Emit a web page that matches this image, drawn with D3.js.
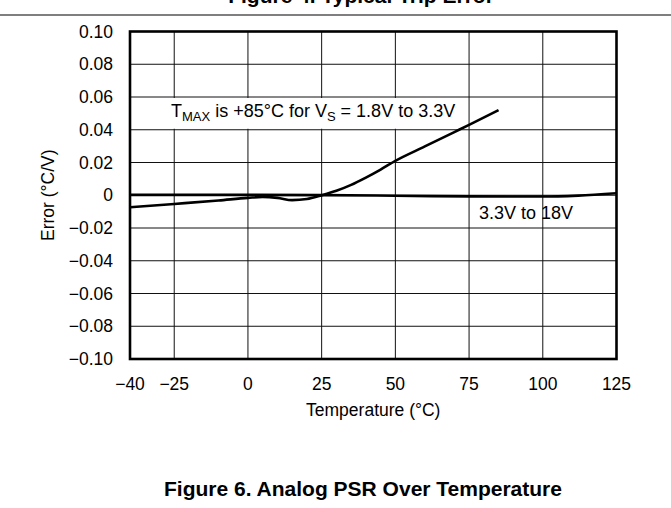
<!DOCTYPE html>
<html>
<head>
  <meta charset="utf-8">
  <title>Analog PSR Over Temperature</title>
  <script src="https://cdn.jsdelivr.net/npm/d3@7"></script>
  <style>
    body { margin: 0; background: #fff; }
    svg text { font-family: "Liberation Sans", Arial, sans-serif; fill: #000; }
  </style>
</head>
<body>
<div id="container"></div>

<script>
    // x ticks and y ticks
    var xTicks = [-40, -25, 0, 25, 50, 75, 100, 125];
    var yTicks = [-0.10, -0.08, -0.06, -0.04, -0.02, 0, 0.02, 0.04, 0.06, 0.08, 0.10];
    var yTickLabels = ["\u22120.10", "\u22120.08", "\u22120.06", "\u22120.04", "\u22120.02", "0",
                       "0.02", "0.04", "0.06", "0.08", "0.10"];
    var xTickLabels = ["\u221240", "\u221225", "0", "25", "50", "75", "100", "125"];

    // 3.3V to 18V
    var tempHigh = [-40, -25, 0, 25, 50, 75, 100, 112, 125];
    var errHigh  = [0.0002, 0.0002, 0.0002, 0.0001, -0.0003, -0.0007, -0.0008, -0.0002, 0.0012];

    // 1.8V to 3.3V (stops at TMAX = 85)
    var tempLow = [-40, -25, -10, 0, 5, 10, 15, 20, 25, 30, 35, 40, 45, 50, 60, 70, 75, 85];
    var errLow  = [-0.0073, -0.0053, -0.0032, -0.0016, -0.0010, -0.0016, -0.0030, -0.0023, 0.0000,
                   0.0027, 0.0063, 0.0108, 0.0157, 0.0210, 0.0298, 0.0386, 0.0430, 0.0520];

    var W = 671, H = 508;
    var pLeft = 130, pRight = 616.5, pTop = 31.5, pBottom = 359;

    var svg = d3.select("#container").append("svg").attr("width", W).attr("height", H);

    // top title (cut off) and rule
    svg.append("text").attr("x", 361).attr("y", 3).attr("text-anchor", "middle")
       .style("font-size", "21px").style("font-weight", "bold").text("Figure 4. Typical Trip Error");
    svg.append("line").attr("x1", 0).attr("x2", W).attr("y1", 15).attr("y2", 15)
       .attr("stroke", "#000").attr("stroke-width", 1.2);

    var x = d3.scaleLinear().domain([-40, 125]).range([pLeft, pRight]);
    var y = d3.scaleLinear().domain([-0.10, 0.10]).range([pBottom, pTop]);

    var grid = svg.append("g");
    grid.selectAll(".vg").data(xTicks).enter().append("line")
        .attr("x1", function(d){ return x(d); }).attr("x2", function(d){ return x(d); })
        .attr("y1", pTop).attr("y2", pBottom)
        .attr("stroke", "#111").attr("stroke-width", 1);
    grid.selectAll(".hg").data(yTicks).enter().append("line")
        .attr("x1", pLeft).attr("x2", pRight)
        .attr("y1", function(d){ return y(d); }).attr("y2", function(d){ return y(d); })
        .attr("stroke", "#111").attr("stroke-width", 1);

    // white box behind the annotation
    svg.append("rect").attr("x", 165).attr("y", y(0.06) + 1).attr("width", 298)
       .attr("height", y(0.04) - y(0.06) - 2).attr("fill", "#fff");

    var fs = "17.5px";
    var ann = svg.append("text").attr("x", 171).attr("y", 117).style("font-size", "18px");
    ann.append("tspan").text("T");
    ann.append("tspan").attr("dy", 4).style("font-size", "13px").text("MAX");
    ann.append("tspan").attr("dy", -4).text(" is +85\u00b0C for V");
    ann.append("tspan").attr("dy", 4).style("font-size", "13px").text("S");
    ann.append("tspan").attr("dy", -4).text(" = 1.8V to 3.3V");

    svg.append("text").attr("x", 479).attr("y", 219).style("font-size", "18px").text("3.3V to 18V");

    var line = d3.line()
        .x(function(d){ return x(d[0]); })
        .y(function(d){ return y(d[1]); })
        .curve(d3.curveMonotoneX);

    svg.append("path").datum(d3.zip(tempHigh, errHigh)).attr("d", line)
       .attr("fill", "none").attr("stroke", "#000").attr("stroke-width", 2.6);
    svg.append("path").datum(d3.zip(tempLow, errLow)).attr("d", line)
       .attr("fill", "none").attr("stroke", "#000").attr("stroke-width", 2.6);

    // frame
    svg.append("rect").attr("x", pLeft).attr("y", pTop).attr("width", pRight - pLeft)
       .attr("height", pBottom - pTop).attr("fill", "none").attr("stroke", "#000").attr("stroke-width", 2.6);

    // tick labels
    svg.selectAll(".yl").data(yTicks).enter().append("text")
       .attr("x", 113).attr("y", function(d){ return y(d); }).attr("dy", "0.35em")
       .attr("text-anchor", "end").style("font-size", fs)
       .text(function(d, i){ return yTickLabels[i]; });
    svg.selectAll(".xl").data(xTicks).enter().append("text")
       .attr("x", function(d){ return x(d); }).attr("y", 390)
       .attr("text-anchor", "middle").style("font-size", fs)
       .text(function(d, i){ return xTickLabels[i]; });

    svg.append("text").attr("x", (pLeft + pRight) / 2).attr("y", 416).attr("text-anchor", "middle")
       .style("font-size", fs).text("Temperature (\u00b0C)");
    svg.append("text").attr("transform", "translate(54," + y(0) + ") rotate(-90)")
       .attr("text-anchor", "middle").style("font-size", fs).text("Error (\u00b0C/V)");

    svg.append("text").attr("x", 363).attr("y", 496).attr("text-anchor", "middle")
       .style("font-size", "21px").style("font-weight", "bold").text("Figure 6. Analog PSR Over Temperature");
</script>
</body>
</html>
